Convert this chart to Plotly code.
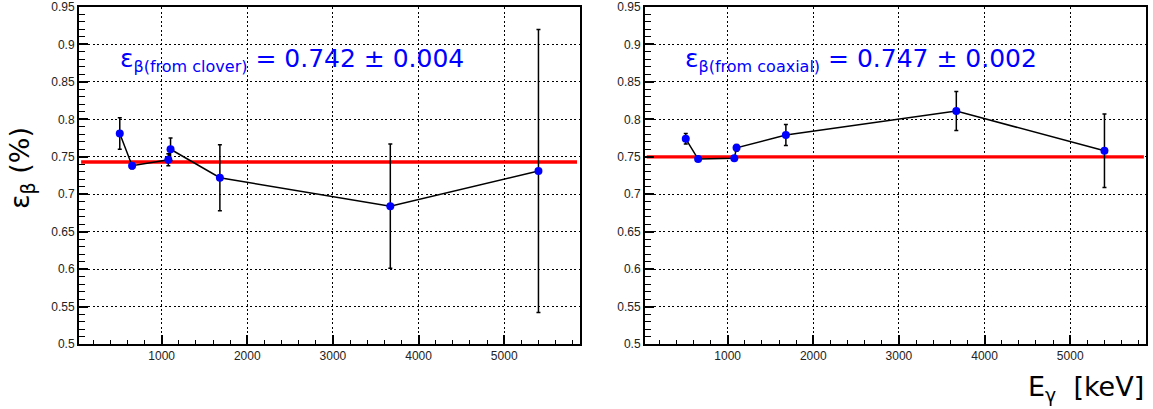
import plotly.graph_objects as go

# ---- data ----
energies = [511, 655, 1078, 1104, 1680, 3670, 5400]

clover_eff = [0.781, 0.738, 0.746, 0.760, 0.722, 0.684, 0.731]
clover_err = [0.021, 0.004, 0.008, 0.015, 0.044, 0.083, 0.189]

coax_eff = [0.774, 0.747, 0.748, 0.762, 0.779, 0.811, 0.758]
coax_err = [0.007, 0.002, 0.002, 0.0045, 0.014, 0.026, 0.049]

fit_x = [[60, 5850], [55, 5860]]
fit_level = [0.743, 0.750]

labels = ["ε<sub><span style='font-size:16px'>β(from clover)</span></sub> = 0.742 ± 0.004",
          "ε<sub><span style='font-size:16px'>β(from coaxial)</span></sub> = 0.747 ± 0.002"]

y_tickvals = [0.5, 0.55, 0.6, 0.65, 0.7, 0.75, 0.8, 0.85, 0.9, 0.95]
y_ticktext = ["0.5", "0.55", "0.6", "0.65", "0.7", "0.75", "0.8", "0.85", "0.9", "0.95"]
x_tickvals = [1000, 2000, 3000, 4000, 5000]
x_ticktext = ["1000", "2000", "3000", "4000", "5000"]

W, H = 1153, 409
fig = go.Figure()

series = [(clover_eff, clover_err), (coax_eff, coax_err)]
for i, (eff, err) in enumerate(series):
    xa = "x" if i == 0 else "x2"
    ya = "y" if i == 0 else "y2"
    fig.add_trace(go.Scatter(
        x=fit_x[i], y=[fit_level[i]] * 2, mode="lines",
        line=dict(color="#ff0000", width=3.3), xaxis=xa, yaxis=ya,
        showlegend=False, hoverinfo="skip"))
    fig.add_trace(go.Scatter(
        x=energies, y=eff, mode="lines+markers",
        line=dict(color="black", width=1.5),
        marker=dict(color="#0000ff", size=8, line=dict(width=0)),
        error_y=dict(type="data", array=err, visible=True, color="black",
                     thickness=1.5, width=2),
        xaxis=xa, yaxis=ya, showlegend=False))

tickfont = dict(family="Liberation Sans, Arial", size=12, color="#222")
common_x = dict(range=[35, 5885], tickvals=x_tickvals, ticktext=x_ticktext,
                showgrid=True, gridcolor="black", griddash="2px,2.5px", gridwidth=1.4,
                ticks="inside", ticklen=9, tickwidth=1.5, tickcolor="black",
                minor=dict(dtick=200, tick0=0, ticks="inside", ticklen=4,
                           tickwidth=1.2, tickcolor="black", showgrid=False),
                showline=True, linecolor="black", linewidth=2, mirror=True,
                zeroline=False, tickfont=tickfont, automargin=False)
common_y = dict(range=[0.5, 0.95], tickvals=y_tickvals, ticktext=y_ticktext,
                showgrid=True, gridcolor="black", griddash="2px,2.5px", gridwidth=1.4,
                ticks="inside", ticklen=9, tickwidth=1.5, tickcolor="black",
                minor=dict(dtick=0.01, tick0=0.5, ticks="inside", ticklen=6,
                           tickwidth=1.2, tickcolor="black", showgrid=False),
                showline=True, linecolor="black", linewidth=2, mirror=True,
                zeroline=False, tickfont=tickfont, automargin=False,
                domain=[1 - 344 / H, 1 - 7 / H])

fig.update_layout(
    width=W, height=H, margin=dict(l=0, r=0, t=0, b=0, pad=0, autoexpand=False),
    paper_bgcolor="white", plot_bgcolor="white",
    xaxis=dict(common_x, domain=[79 / W, 580 / W], anchor="y"),
    yaxis=dict(common_y, anchor="x"),
    xaxis2=dict(common_x, domain=[645 / W, 1146 / W], anchor="y2"),
    yaxis2=dict(common_y, anchor="x2"),
)

ann_font = dict(family="DejaVu Sans", size=25, color="#0000ff")
fig.add_annotation(text=labels[0], xref="paper", yref="paper",
                   x=118 / W, y=1 - 60 / H, xanchor="left", yanchor="middle",
                   showarrow=False, font=ann_font)
fig.add_annotation(text=labels[1], xref="paper", yref="paper",
                   x=683 / W, y=1 - 60 / H, xanchor="left", yanchor="middle",
                   showarrow=False, font=ann_font)

fig.add_annotation(text="ε<sub>β</sub> (%)", xref="paper", yref="paper",
                   x=21 / W, y=1 - 168 / H, xanchor="center", yanchor="middle",
                   textangle=-90, showarrow=False,
                   font=dict(family="DejaVu Sans", size=27, color="black"))
fig.add_annotation(text="E<sub>γ</sub>  [keV]", xref="paper", yref="paper",
                   x=1146 / W, y=1 - 388 / H, xanchor="right", yanchor="middle",
                   showarrow=False,
                   font=dict(family="DejaVu Sans", size=27, color="black"))

fig.write_html("out.html",
               config={"displayModeBar": False},
               post_script="document.documentElement.style.margin='0';"
                           "document.documentElement.style.overflow='hidden';"
                           "document.body.style.margin='0';"
                           "document.body.style.overflow='hidden';")
